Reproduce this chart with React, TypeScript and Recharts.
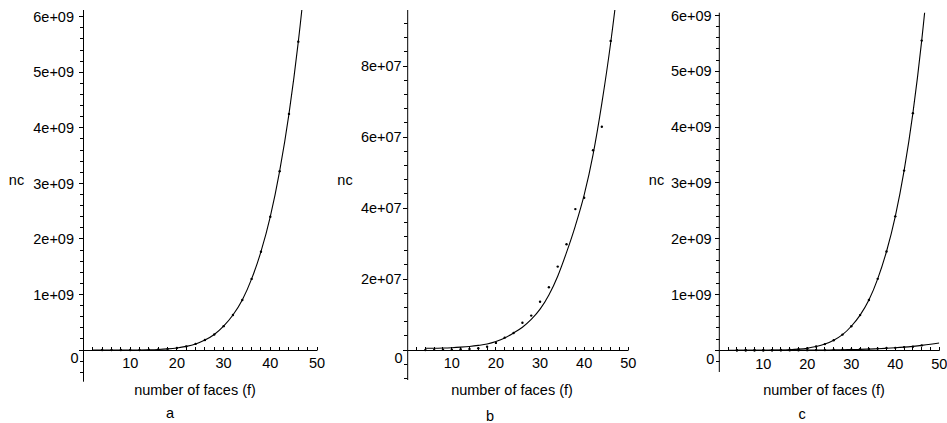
import React from "react";
import { LineChart, Line, XAxis, YAxis, ReferenceDot } from "recharts";

// ─── Data ────────────────────────────────────────────────────────────────────
// number of faces where nc was measured
const FACES = [4, 6, 8, 10, 12, 14, 16, 18, 20, 22, 24, 26, 28, 30, 32, 34, 36, 38, 40, 42, 44, 46];

// measured nc, case a (also upper series in c)
const NC_A = [
  0, 0.00003e9, 0.00015e9, 0.0006e9, 0.0017e9, 0.0044e9, 0.0098e9, 0.02e9, 0.037e9, 0.066e9, 0.11e9,
  0.18e9, 0.28e9, 0.43e9, 0.63e9, 0.9e9, 1.28e9, 1.77e9, 2.4e9, 3.22e9, 4.25e9, 5.55e9,
];

// measured nc, case b (also lower series in c)
const NC_B = [
  0.001e7, 0.003e7, 0.006e7, 0.01e7, 0.02e7, 0.03e7, 0.05e7, 0.09e7, 0.2e7, 0.35e7, 0.48e7,
  0.77e7, 0.97e7, 1.36e7, 1.77e7, 2.35e7, 2.98e7, 3.97e7, 4.29e7, 5.63e7, 6.29e7, 8.71e7,
];

// fitted curves
const FIT_A_FACES = [2, 4, 6, 8, 10, 12, 14, 16, 18, 20, 22, 24, 26, 28, 30, 32, 34, 36, 38, 40, 42, 44, 46, 48, 50];
const FIT_A = [
  0, 0, 0.00003e9, 0.00015e9, 0.0006e9, 0.0017e9, 0.0044e9, 0.0098e9, 0.02e9, 0.037e9, 0.066e9, 0.11e9,
  0.18e9, 0.28e9, 0.43e9, 0.63e9, 0.9e9, 1.28e9, 1.77e9, 2.4e9, 3.22e9, 4.25e9, 5.55e9, 7.17e9, 9.15e9,
];
const FIT_B_FACES = [4, 6, 8, 10, 12, 14, 16, 18, 20, 22, 24, 26, 28, 30, 32, 34, 36, 38, 40, 42, 44, 46, 48, 50];
const FIT_B = [
  0.05e7, 0.05e7, 0.055e7, 0.065e7, 0.08e7, 0.1e7, 0.13e7, 0.17e7, 0.24e7, 0.34e7, 0.48e7, 0.64e7,
  0.86e7, 1.15e7, 1.55e7, 2.08e7, 2.75e7, 3.5e7, 4.37e7, 5.5e7, 6.95e7, 8.65e7, 10.7e7, 13.1e7,
];

// ticks
const X_TICKS = [10, 20, 30, 40, 50];
const X_LABELS = ["10", "20", "30", "40", "50"];
const Y_TICKS_E9 = [0, 1e9, 2e9, 3e9, 4e9, 5e9, 6e9];
const Y_LABELS_E9 = ["0", "1e+09", "2e+09", "3e+09", "4e+09", "5e+09", "6e+09"];
const Y_TICKS_E7 = [0, 2e7, 4e7, 6e7, 8e7];
const Y_LABELS_E7 = ["0", "2e+07", "4e+07", "6e+07", "8e+07"];

const FONT = '"Liberation Sans", Arial, Helvetica, sans-serif';
const FS = 14.5;

const toPts = (xs: number[], ys: number[]) => xs.map((f, i) => ({ f, v: ys[i] }));
// put a 1px line on a pixel centre so it renders solid black
const snap = (p: number) => Math.round(p - 0.5) + 0.5;

type Series = { dots: { f: number; v: number }[]; fit: { f: number; v: number }[] };

type PanelCfg = {
  left: number;
  width: number;
  plotLeft: number;
  plotRight: number;
  top: number;
  bottom: number;
  ymin: number;
  ymax: number;
  yTicks: number[];
  yLabels: string[];
  yMinor: number;
  labelGap: number;
  series: Series[];
};

const seriesA: Series = { dots: toPts(FACES, NC_A), fit: toPts(FIT_A_FACES, FIT_A) };
const seriesB: Series = { dots: toPts(FACES, NC_B), fit: toPts(FIT_B_FACES, FIT_B) };

const panels: PanelCfg[] = [
  {
    left: 0, width: 330, plotLeft: 83.5, plotRight: 317, top: 10, bottom: 381.7,
    ymin: -0.57e9, ymax: 6.12e9, yTicks: Y_TICKS_E9, yLabels: Y_LABELS_E9, yMinor: 0.2e9,
    labelGap: 9.5, series: [seriesA],
  },
  {
    left: 320, width: 320, plotLeft: 407.7, plotRight: 628.3, top: 10, bottom: 380,
    ymin: -0.845e7, ymax: 9.58e7, yTicks: Y_TICKS_E7, yLabels: Y_LABELS_E7, yMinor: 0.4e7,
    labelGap: 6, series: [seriesB],
  },
  {
    left: 630, width: 317, plotLeft: 719.3, plotRight: 939.3, top: 12.7, bottom: 372,
    ymin: -0.39e9, ymax: 6.05e9, yTicks: Y_TICKS_E9, yLabels: Y_LABELS_E9, yMinor: 0.2e9,
    labelGap: 7.6, series: [seriesA, seriesB],
  },
];

function Panel({ cfg }: { cfg: PanelCfg }) {
  const yW = cfg.plotLeft - cfg.left;
  const plotW = cfg.plotRight - cfg.plotLeft;
  const zeroY = cfg.top + (cfg.ymax / (cfg.ymax - cfg.ymin)) * (cfg.bottom - cfg.top);
  const axisX = snap(yW);
  const axisY = snap(zeroY);

  // minor + major y ticks
  const yAll: number[] = [];
  for (let k = Math.ceil(cfg.ymin / cfg.yMinor); k * cfg.yMinor <= cfg.ymax; k++) {
    yAll.push(Math.round(k * cfg.yMinor));
  }
  const xAll: number[] = [];
  for (let f = 2; f <= 50; f += 2) xAll.push(f);

  const YTick = (props: any) => {
    const { y, payload } = props;
    const v = payload.value;
    const idx = cfg.yTicks.findIndex((t) => Math.abs(t - v) < cfg.yMinor / 10);
    const major = idx >= 0;
    const ty = snap(y);
    return (
      <g>
        <line x1={axisX - (major ? 4.5 : 3.5)} x2={axisX} y1={ty} y2={ty} stroke="#000" strokeWidth={1} />
        {major && (
          <text
            x={v === 0 ? yW - 5 : yW - cfg.labelGap}
            y={v === 0 ? y + 13.3 : y + 5.2}
            textAnchor="end"
            fontFamily={FONT}
            fontSize={FS}
            fill="#000"
            stroke="none"
          >
            {cfg.yLabels[idx]}
          </text>
        )}
      </g>
    );
  };

  const XTick = (props: any) => {
    const { payload } = props;
    const v = payload.value;
    const x = yW + (v / 50) * plotW;
    const tx = snap(x);
    const idx = X_TICKS.indexOf(v);
    return (
      <g>
        <line x1={tx} x2={tx} y1={axisY - 3.5} y2={axisY} stroke="#000" strokeWidth={1} />
        {idx >= 0 && (
          <text x={x} y={zeroY + 18.3} textAnchor="middle" fontFamily={FONT} fontSize={FS} fill="#000" stroke="none">
            {X_LABELS[idx]}
          </text>
        )}
      </g>
    );
  };

  // horizontal axis through nc = 0
  const XAxisLine = (p: any) => (
    <path d={`M${axisX},${snap(p.cy)}H${axisX + plotW}`} stroke="#000" strokeWidth={1} fill="none" />
  );

  return (
    <div style={{ position: "absolute", left: cfg.left, top: 0 }}>
      <LineChart
        width={cfg.width}
        height={423}
        margin={{ top: cfg.top, right: cfg.width - (cfg.plotRight - cfg.left), bottom: 423 - cfg.bottom - 20, left: 0 }}
      >
        <XAxis
          type="number"
          dataKey="f"
          domain={[0, 50]}
          ticks={xAll}
          interval={0}
          height={20}
          axisLine={false}
          tickLine={false}
          tick={XTick}
          allowDataOverflow
        />
        <YAxis
          type="number"
          domain={[cfg.ymin, cfg.ymax]}
          ticks={yAll}
          interval={0}
          width={yW}
          axisLine={{ stroke: "#000", strokeWidth: 1 }}
          tickLine={false}
          tick={YTick}
          allowDataOverflow
        />
        <ReferenceDot x={0} y={0} r={1} ifOverflow="visible" shape={XAxisLine} />
        {cfg.series.map((s, i) => (
          <Line
            key={`fit${i}`}
            data={s.fit}
            dataKey="v"
            type="monotone"
            stroke="#000"
            strokeWidth={1.1}
            dot={false}
            isAnimationActive={false}
          />
        ))}
        {cfg.series.map((s, i) => (
          <Line
            key={`dots${i}`}
            data={s.dots}
            dataKey="v"
            stroke="none"
            dot={{ r: 1.2, fill: "#000", stroke: "none" }}
            isAnimationActive={false}
          />
        ))}
      </LineChart>
    </div>
  );
}

export default function App() {
  const texts = [
    { x: 16.5, y: 185, t: "nc" },
    { x: 345, y: 185, t: "nc" },
    { x: 656.5, y: 185, t: "nc" },
    { x: 195, y: 395, t: "number of faces (f)" },
    { x: 512, y: 395, t: "number of faces (f)" },
    { x: 824, y: 395, t: "number of faces (f)" },
    { x: 170, y: 418, t: "a" },
    { x: 490, y: 421, t: "b" },
    { x: 802, y: 419, t: "c" },
  ];
  return (
    <div style={{ position: "absolute", left: 0, top: 0, width: 947, height: 423, background: "#fff" }}>
      {panels.map((p, i) => (
        <Panel key={i} cfg={p} />
      ))}
      <svg width={947} height={423} style={{ position: "absolute", left: 0, top: 0, pointerEvents: "none" }}>
        {texts.map((t, i) => (
          <text key={i} x={t.x} y={t.y} textAnchor="middle" fontFamily={FONT} fontSize={FS} fill="#000">
            {t.t}
          </text>
        ))}
      </svg>
    </div>
  );
}
